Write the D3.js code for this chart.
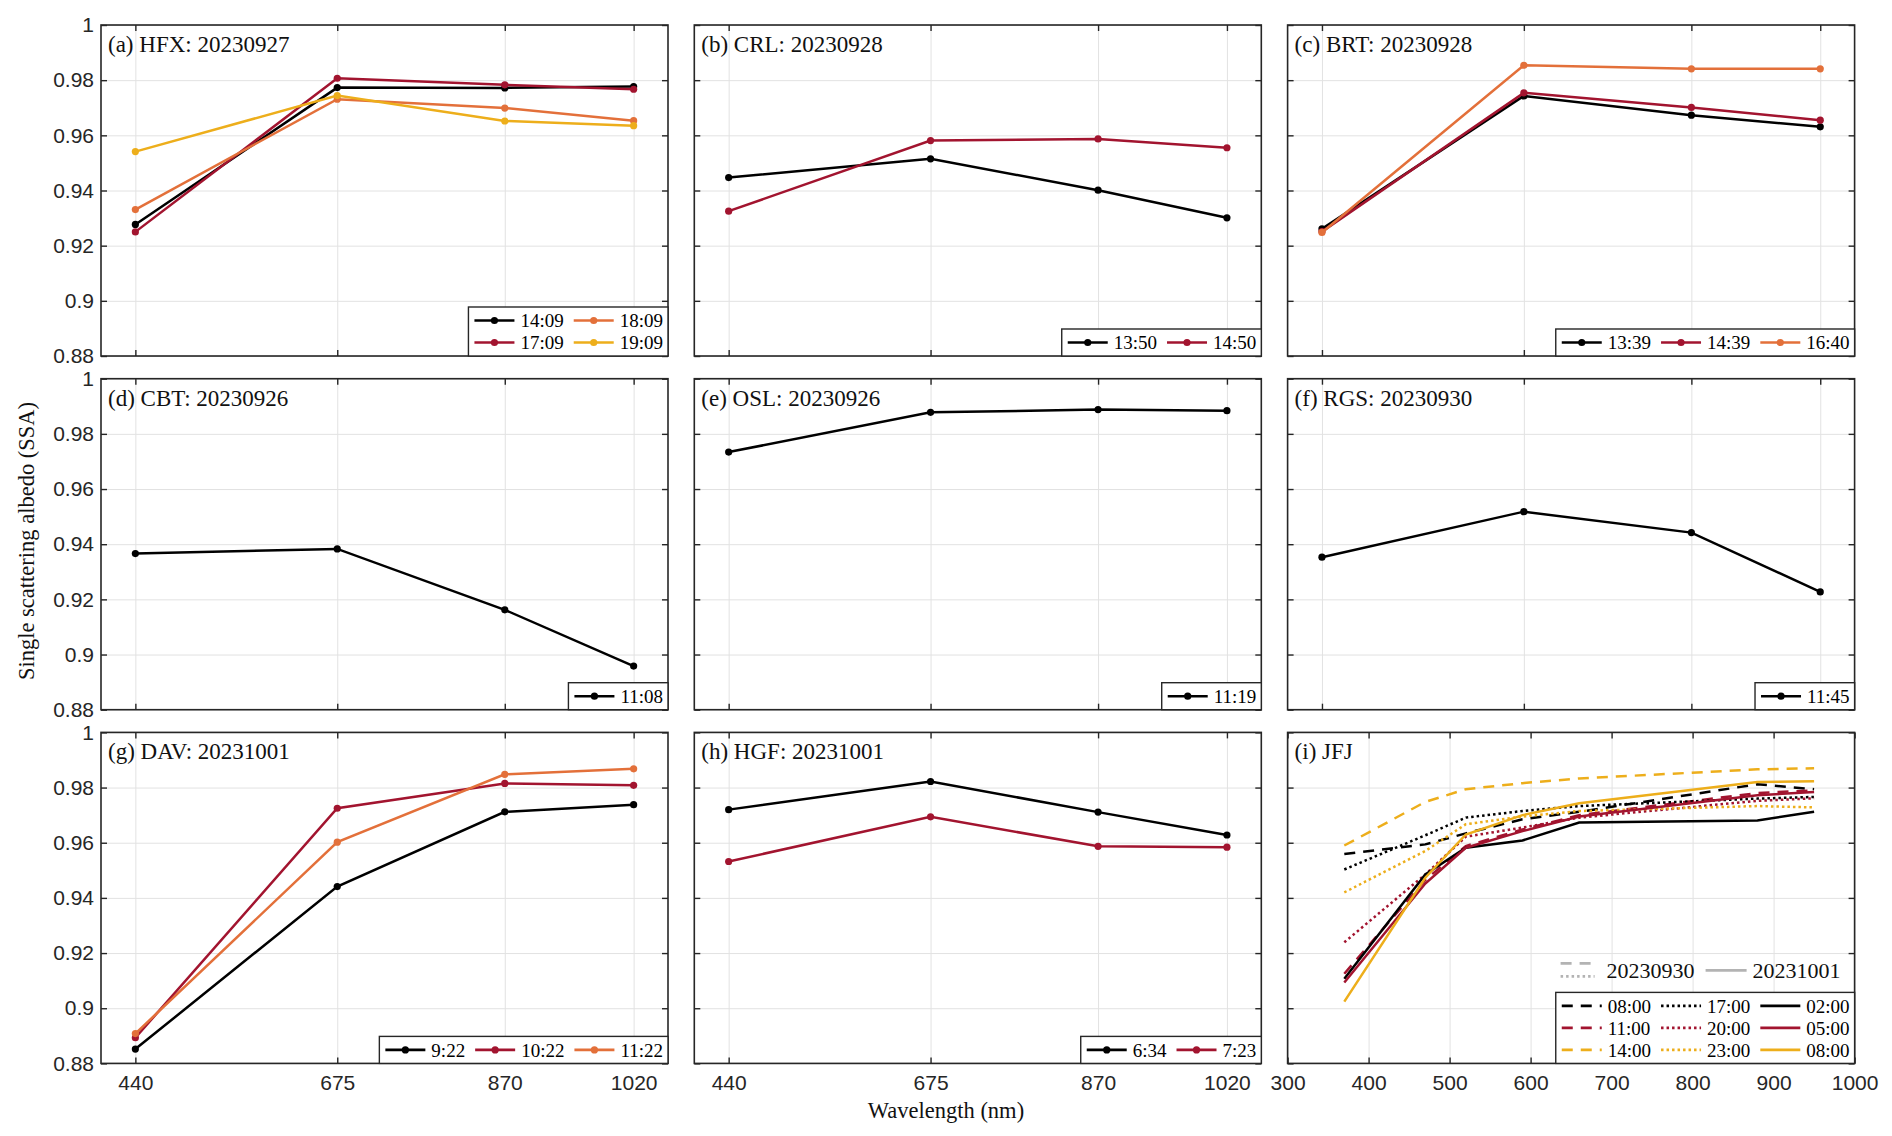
<!DOCTYPE html>
<html>
<head>
<meta charset="utf-8">
<script src="https://cdn.jsdelivr.net/npm/d3@7"></script>
<style>
  body { margin: 0; background: #fff; }
  svg { display: block; font-family: "Liberation Serif", "Times New Roman", serif; }
</style>
</head>
<body>
<svg id="fig"></svg>
<script>
// figure size and panel grid
var width = 1892, height = 1136;
var layout = {left: 101, top: 25, panelW: 567, panelH: 331, colStep: 593.3, rowStep: 353.7};
var fontSize = {tick: 21, title: 23, legend: 19, label: 22.5, dayLegend: 22};

// wavelengths (nm)
var aeronetWl = [440, 675, 870, 1020];
var aethWl = [370, 470, 520, 590, 660, 880, 950];

// axis ticks
var ssaTicks = [0.88, 0.9, 0.92, 0.94, 0.96, 0.98, 1];
var ssaTickLabels = ['0.88', '0.9', '0.92', '0.94', '0.96', '0.98', '1'];
var jfjTicks = [300, 400, 500, 600, 700, 800, 900, 1000];

// (a) HFX
var hfxTimes = ['14:09', '17:09', '18:09', '19:09'];
var hfxSsa = [
	[0.9277, 0.9773, 0.9772, 0.9777],
	[0.9250, 0.9807, 0.9783, 0.9767],
	[0.9331, 0.9731, 0.9699, 0.9653],
	[0.9541, 0.9744, 0.9652, 0.9635]
];
// (b) CRL
var crlTimes = ['13:50', '14:50'];
var crlSsa = [
	[0.9447, 0.9515, 0.9401, 0.9301],
	[0.9325, 0.9581, 0.9587, 0.9555]
];
// (c) BRT
var brtTimes = ['13:39', '14:39', '16:40'];
var brtSsa = [
	[0.9261, 0.9743, 0.9673, 0.9631],
	[0.9251, 0.9754, 0.9701, 0.9655],
	[0.9248, 0.9854, 0.9841, 0.9841]
];
// (d) CBT
var cbtTimes = ['11:08'];
var cbtSsa = [[0.9366, 0.9383, 0.9162, 0.8958]];
// (e) OSL
var oslTimes = ['11:19'];
var oslSsa = [[0.9734, 0.9878, 0.9888, 0.9884]];
// (f) RGS
var rgsTimes = ['11:45'];
var rgsSsa = [[0.9353, 0.9518, 0.9442, 0.9227]];
// (g) DAV
var davTimes = ['9:22', '10:22', '11:22'];
var davSsa = [
	[0.8852, 0.9441, 0.9712, 0.9738],
	[0.8893, 0.9725, 0.9815, 0.9808],
	[0.8908, 0.9602, 0.9848, 0.9868]
];
// (h) HGF
var hgfTimes = ['6:34', '7:23'];
var hgfSsa = [
	[0.9720, 0.9822, 0.9711, 0.9628],
	[0.9532, 0.9694, 0.9587, 0.9584]
];
// (i) JFJ, aethalometer wavelengths
var jfjDays = ['20230930', '20231001'];
var jfjTimes = ['08:00', '11:00', '14:00', '17:00', '20:00', '23:00', '02:00', '05:00', '08:00'];
var jfjSsa = [
	[0.9559, 0.9594, 0.9634, 0.9685, 0.9712, 0.9812, 0.9794],
	[0.9125, 0.9465, 0.9588, 0.9648, 0.9700, 0.9780, 0.9790],
	[0.9590, 0.9748, 0.9794, 0.9816, 0.9833, 0.9866, 0.9870],
	[0.9503, 0.9627, 0.9691, 0.9715, 0.9733, 0.9760, 0.9766],
	[0.9239, 0.9485, 0.9622, 0.9655, 0.9691, 0.9752, 0.9761],
	[0.9420, 0.9570, 0.9667, 0.9695, 0.9715, 0.9733, 0.9728],
	[0.9107, 0.9485, 0.9582, 0.9608, 0.9673, 0.9681, 0.9712],
	[0.9093, 0.9452, 0.9582, 0.9642, 0.9695, 0.9772, 0.9784],
	[0.9024, 0.9473, 0.9630, 0.9700, 0.9743, 0.9820, 0.9823]
];

var seriesColors = ['#000000', '#A2142F', '#E3703A', '#EDAE1B'];
var jfjColorIdx = [0, 1, 3];
var dashStyles = {dashed: '11,8', dotted: '2.5,3', solid: null};
var frameColor = '#262626';
var gridColor = '#e2e2e2';
var dayColor = '#b3b3b3';

var panels = [
	{title: '(a) HFX: 20230927', times: hfxTimes, ssa: hfxSsa, cols: 2},
	{title: '(b) CRL: 20230928', times: crlTimes, ssa: crlSsa, cols: 2},
	{title: '(c) BRT: 20230928', times: brtTimes, ssa: brtSsa, cols: 3},
	{title: '(d) CBT: 20230926', times: cbtTimes, ssa: cbtSsa, cols: 1},
	{title: '(e) OSL: 20230926', times: oslTimes, ssa: oslSsa, cols: 1},
	{title: '(f) RGS: 20230930', times: rgsTimes, ssa: rgsSsa, cols: 1},
	{title: '(g) DAV: 20231001', times: davTimes, ssa: davSsa, cols: 3},
	{title: '(h) HGF: 20231001', times: hgfTimes, ssa: hgfSsa, cols: 2},
	{title: '(i) JFJ', jfj: true, cols: 3}
];

var svg = d3.select('#fig').attr('width', width).attr('height', height);

var y = d3.scaleLinear().domain([0.88, 1]).range([layout.panelH, 0]);
var xAeronet = d3.scaleLinear().domain([400, 1060]).range([0, layout.panelW]);
var xJfj = d3.scaleLinear().domain([300, 1000]).range([0, layout.panelW]);

// MATLAB-like legend box anchored to the lower right corner
var drawLegend = function(g, items, nCols) {
	var lineLen = 40, gap = 6, colGap = 10, padL = 6, padR = 5, rowH = 22;
	var nRows = Math.ceil(items.length / nCols);
	var lg = g.append('g');
	var texts = lg.selectAll('text.lbl').data(items).enter().append('text')
		.attr('class', 'lbl')
		.attr('font-size', fontSize.legend)
		.attr('dy', '0.35em')
		.text(function(d) { return d.name; });
	var widths = [];
	texts.each(function(d, i) {
		var c = Math.floor(i / nRows);
		widths[c] = Math.max(widths[c] || 0, this.getComputedTextLength());
	});
	var colX = [], cx = padL;
	for (var c = 0; c < nCols; c++) {
		colX.push(cx);
		cx += lineLen + gap + widths[c] + (c < nCols - 1 ? colGap : padR);
	}
	var boxW = cx, boxH = nRows * rowH + 5;
	var ox = layout.panelW - boxW, oy = layout.panelH - boxH;
	lg.insert('rect', ':first-child')
		.attr('x', ox).attr('y', oy).attr('width', boxW).attr('height', boxH)
		.attr('fill', '#fff').attr('stroke', frameColor).attr('stroke-width', 1.4);
	var pos = function(i) {
		return {x: ox + colX[Math.floor(i / nRows)], y: oy + 2.5 + rowH / 2 + (i % nRows) * rowH};
	};
	texts.attr('x', function(d, i) { return pos(i).x + lineLen + gap; })
		.attr('y', function(d, i) { return pos(i).y; });
	items.forEach(function(d, i) {
		var p = pos(i);
		lg.append('line')
			.attr('x1', p.x).attr('x2', p.x + lineLen).attr('y1', p.y).attr('y2', p.y)
			.attr('stroke', d.color).attr('stroke-width', 2.6)
			.attr('stroke-dasharray', d.dash);
		if (d.marker) {
			lg.append('circle').attr('cx', p.x + lineLen / 2).attr('cy', p.y).attr('r', 3.6)
				.attr('fill', d.color);
		}
	});
};

panels.forEach(function(p, k) {
	var col = k % 3, row = Math.floor(k / 3);
	var g = svg.append('g')
		.attr('transform', 'translate(' + (layout.left + col * layout.colStep) + ',' + (layout.top + row * layout.rowStep) + ')');
	var x = p.jfj ? xJfj : xAeronet;
	var xTicks = p.jfj ? jfjTicks : aeronetWl;

	// grid
	g.append('g').attr('transform', 'translate(0,' + layout.panelH + ')')
		.call(d3.axisBottom(x).tickValues(xTicks).tickSize(-layout.panelH).tickFormat(''))
		.call(function(a) { a.select('.domain').remove(); a.selectAll('line').attr('stroke', gridColor).attr('stroke-width', 1); });
	g.append('g')
		.call(d3.axisLeft(y).tickValues(ssaTicks).tickSize(-layout.panelW).tickFormat(''))
		.call(function(a) { a.select('.domain').remove(); a.selectAll('line').attr('stroke', gridColor).attr('stroke-width', 1); });

	// data
	var items = [];
	if (p.jfj) {
		var line = d3.line().x(function(d, i) { return x(aethWl[i]); }).y(function(d) { return y(d); });
		jfjSsa.forEach(function(s, i) {
			var style = i < 3 ? 'dashed' : (i < 6 ? 'dotted' : 'solid');
			var color = seriesColors[jfjColorIdx[i % 3]];
			g.append('path').datum(s).attr('d', line)
				.attr('fill', 'none').attr('stroke', color).attr('stroke-width', 2.5)
				.attr('stroke-dasharray', dashStyles[style]);
			items.push({name: jfjTimes[i], color: color, dash: dashStyles[style], marker: false});
		});
	} else {
		var line2 = d3.line().x(function(d, i) { return x(aeronetWl[i]); }).y(function(d) { return y(d); });
		p.ssa.forEach(function(s, i) {
			var color = seriesColors[i];
			g.append('path').datum(s).attr('d', line2)
				.attr('fill', 'none').attr('stroke', color).attr('stroke-width', 2.5);
			g.selectAll(null).data(s).enter().append('circle')
				.attr('cx', function(d, j) { return x(aeronetWl[j]); })
				.attr('cy', function(d) { return y(d); })
				.attr('r', 3.6).attr('fill', color);
			items.push({name: p.times[i], color: color, dash: null, marker: true});
		});
	}

	// frame and inward ticks on all four sides
	g.append('rect').attr('width', layout.panelW).attr('height', layout.panelH)
		.attr('fill', 'none').attr('stroke', frameColor).attr('stroke-width', 1.6);
	var tickStyle = function(a) {
		a.select('.domain').remove();
		a.selectAll('line').attr('stroke', frameColor).attr('stroke-width', 1.4);
		a.selectAll('text').attr('fill', '#262626').attr('font-size', fontSize.tick).attr('font-family', null);
	};
	g.append('g').attr('transform', 'translate(0,' + layout.panelH + ')')
		.call(d3.axisBottom(x).tickValues(xTicks).tickSize(-6).tickPadding(12)
			.tickFormat(row === 2 ? d3.format('d') : ''))
		.call(tickStyle);
	g.append('g')
		.call(d3.axisTop(x).tickValues(xTicks).tickSize(-6).tickFormat(''))
		.call(tickStyle);
	g.append('g')
		.call(d3.axisLeft(y).tickValues(ssaTicks).tickSize(-6).tickPadding(7)
			.tickFormat(function(d, i) { return col === 0 ? ssaTickLabels[i] : ''; }))
		.call(tickStyle);
	g.append('g').attr('transform', 'translate(' + layout.panelW + ',0)')
		.call(d3.axisRight(y).tickValues(ssaTicks).tickSize(-6).tickFormat(''))
		.call(tickStyle);

	// panel title
	g.append('text').attr('x', 7).attr('y', 27)
		.attr('font-size', fontSize.title).attr('fill', '#111')
		.text(p.title);

	drawLegend(g, items, p.cols);

	// day key for panel (i), no box
	if (p.jfj) {
		var dk = g.append('g').attr('transform', 'translate(273,238)');
		dk.append('line').attr('x1', 0).attr('x2', 34).attr('y1', -7).attr('y2', -7)
			.attr('stroke', dayColor).attr('stroke-width', 2.6).attr('stroke-dasharray', dashStyles.dashed);
		dk.append('line').attr('x1', 0).attr('x2', 34).attr('y1', 6).attr('y2', 6)
			.attr('stroke', dayColor).attr('stroke-width', 2.6).attr('stroke-dasharray', dashStyles.dotted);
		dk.append('text').attr('x', 46).attr('dy', '0.35em').attr('font-size', fontSize.dayLegend).attr('fill', '#111')
			.text(jfjDays[0]);
		dk.append('line').attr('x1', 145).attr('x2', 186).attr('y1', 0).attr('y2', 0)
			.attr('stroke', dayColor).attr('stroke-width', 2.6);
		dk.append('text').attr('x', 192).attr('dy', '0.35em').attr('font-size', fontSize.dayLegend).attr('fill', '#111')
			.text(jfjDays[1]);
	}
});

// shared axis labels
svg.append('text')
	.attr('transform', 'translate(26,541) rotate(-90)')
	.attr('text-anchor', 'middle').attr('dy', '0.35em')
	.attr('font-size', fontSize.label).attr('fill', '#111')
	.text('Single scattering albedo (SSA)');
svg.append('text')
	.attr('x', 946).attr('y', 1118)
	.attr('text-anchor', 'middle')
	.attr('font-size', fontSize.label).attr('fill', '#111')
	.text('Wavelength (nm)');
</script>
</body>
</html>
